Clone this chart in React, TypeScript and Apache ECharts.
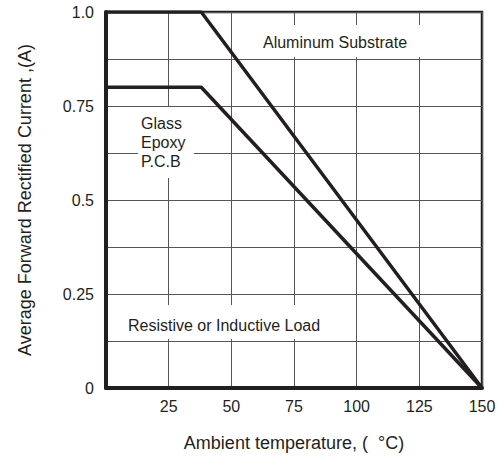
import React, { useEffect, useRef } from "react";
import * as echarts from "echarts";

const aluminumSeries: [number, number][] = [
  [0, 1.0],
  [38, 1.0],
  [150, 0],
];
const glassEpoxySeries: [number, number][] = [
  [0, 0.8],
  [38, 0.8],
  [150, 0],
];
const xTicks = [0, 25, 50, 75, 100, 125, 150];
const yLabelValues = [0, 0.25, 0.5, 0.75, 1.0];

const FONT = "'Liberation Sans', Arial, sans-serif";
const INK = "#231f20";

export default function App() {
  const ref = useRef<HTMLDivElement>(null);
  useEffect(() => {
    if (!ref.current) return;
    const chart = echarts.init(ref.current, undefined, { renderer: "svg" });
    chart.setOption({
      animation: false,
      backgroundColor: "#ffffff",
      textStyle: { fontFamily: FONT },
      grid: {
        left: 106,
        top: 12,
        right: 20,
        bottom: 71,
        show: true,
        borderColor: INK,
        borderWidth: 2.5,
        backgroundColor: "transparent",
      },
      xAxis: {
        type: "value",
        min: xTicks[0],
        max: xTicks[xTicks.length - 1],
        interval: 25,
        name: "Ambient temperature, (  °C)",
        nameLocation: "middle",
        nameGap: 46,
        nameTextStyle: { fontSize: 18, color: INK, fontFamily: FONT },
        axisLine: { show: true, lineStyle: { color: INK, width: 4 } },
        axisTick: { show: false },
        axisLabel: {
          fontSize: 16,
          color: INK,
          margin: 10,
          fontFamily: FONT,
          formatter: (v: number) => (v === 0 ? "" : String(v)),
        },
        splitLine: { show: true, lineStyle: { color: "#555555", width: 1 } },
      },
      yAxis: {
        type: "value",
        min: 0,
        max: 1,
        interval: 0.125,
        name: "Average Forward Rectified Current ,(A)",
        nameLocation: "middle",
        nameGap: 72,
        nameTextStyle: { fontSize: 18, color: INK, fontFamily: FONT },
        axisLine: { show: true, lineStyle: { color: INK, width: 4 } },
        axisTick: { show: false },
        axisLabel: {
          fontSize: 16,
          color: INK,
          margin: 12,
          fontFamily: FONT,
          formatter: (v: number) => {
            if (!yLabelValues.includes(v)) return "";
            return v === 1 ? "1.0" : String(v);
          },
        },
        splitLine: { show: true, lineStyle: { color: "#555555", width: 1 } },
      },
      graphic: [
        {
          type: "rect",
          z: 1,
          shape: { x: 258, y: 25, width: 162, height: 32 },
          style: { fill: "#ffffff" },
        },
        {
          type: "text",
          z: 2,
          x: 335,
          y: 42,
          style: {
            text: "Aluminum Substrate",
            fontSize: 16,
            fontFamily: FONT,
            fill: INK,
            align: "center",
            verticalAlign: "middle",
          },
        },
        {
          type: "rect",
          z: 1,
          shape: { x: 138, y: 107, width: 56, height: 71 },
          style: { fill: "#ffffff" },
        },
        {
          type: "text",
          z: 2,
          x: 141,
          y: 142,
          style: {
            text: "Glass\nEpoxy\nP.C.B",
            fontSize: 16,
            lineHeight: 19,
            fontFamily: FONT,
            fill: INK,
            align: "left",
            verticalAlign: "middle",
          },
        },
        {
          type: "rect",
          z: 1,
          shape: { x: 109, y: 305, width: 231, height: 34 },
          style: { fill: "#ffffff" },
        },
        {
          type: "text",
          z: 2,
          x: 128,
          y: 325,
          style: {
            text: "Resistive or Inductive Load",
            fontSize: 16,
            fontFamily: FONT,
            fill: INK,
            align: "left",
            verticalAlign: "middle",
          },
        },
      ],
      series: [
        {
          name: "Aluminum Substrate",
          type: "line",
          data: aluminumSeries,
          symbol: "none",
          z: 5,
          lineStyle: { color: INK, width: 3.5 },
        },
        {
          name: "Glass Epoxy P.C.B",
          type: "line",
          data: glassEpoxySeries,
          symbol: "none",
          z: 5,
          lineStyle: { color: INK, width: 3.5 },
        },
      ],
    });
    return () => chart.dispose();
  }, []);
  return (
    <div
      ref={ref}
      style={{ position: "absolute", left: 0, top: 0, width: 502, height: 459 }}
    />
  );
}
